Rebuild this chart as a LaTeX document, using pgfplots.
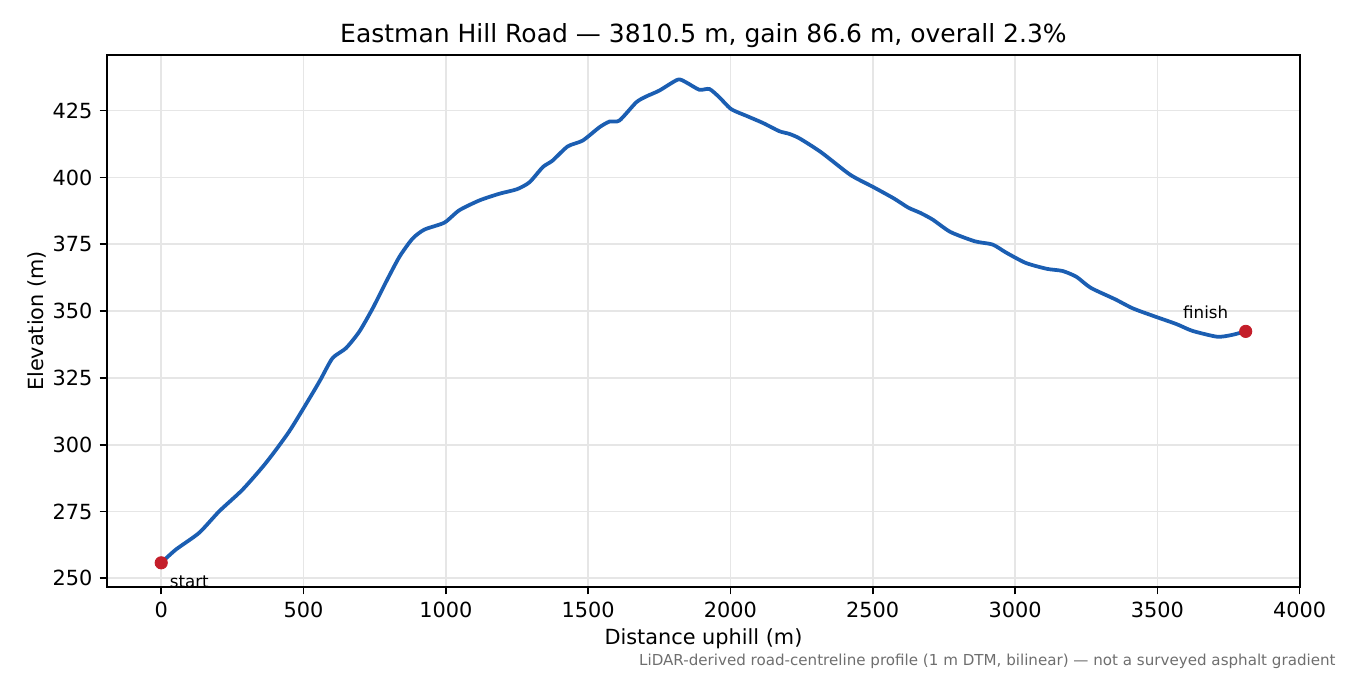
\documentclass[border=0pt]{standalone}
\usepackage{fontspec}
\setmainfont{DejaVu Sans}
\usepackage{pgfplots}
\pgfplotsset{compat=1.18}

\definecolor{profblue}{RGB}{27,94,178}
\definecolor{dotred}{RGB}{196,30,42}
\definecolor{gridgray}{RGB}{230,230,230}
\definecolor{notegray}{RGB}{110,110,110}

\pgfplotstableread{
d      e
0      255.8
52     260.8
133    267.0
204    275.1
286    283.2
368    293.2
450    305.0
532    319.3
561    324.6
602    332.4
649    336.1
696    342.3
743    351.0
790    360.9
837    370.3
883    377.1
925    380.5
995    383.1
1047   387.7
1118   391.4
1188   393.9
1250   395.6
1294   398.2
1341   403.9
1375   406.3
1428   411.6
1481   413.8
1540   418.8
1575   420.9
1610   421.3
1669   428.1
1704   430.3
1750   432.5
1815   436.6
1844   435.6
1891   432.8
1926   433.1
1961   430.0
2002   425.6
2055   423.1
2114   420.4
2172   417.3
2207   416.3
2243   414.6
2319   409.4
2421   401.0
2502   396.4
2575   392.1
2625   388.7
2668   386.7
2711   384.2
2773   379.6
2859   376.1
2921   374.9
2970   371.8
3038   368.0
3112   365.8
3167   365.0
3216   362.8
3266   358.7
3352   354.4
3414   351.0
3488   348.1
3568   345.1
3623   342.6
3710   340.4
3759   341.0
3810.5 342.4
}\profile

\begin{document}
\begin{tikzpicture}
% page frame: 9in x 4.5in, axis box placed inside it
\useasboundingbox (-51.36pt,-42.24pt) rectangle (596.64pt,281.76pt);
\begin{axis}[
    at={(0,0)}, anchor=south west,
    scale only axis,
    width=572.6pt, height=255.4pt,
    xmin=-190.5, xmax=4001,
    ymin=246.75, ymax=445.85,
    xtick={0,500,...,4000},
    ytick={250,275,...,425},
    /pgf/number format/assume math mode=true,
    /pgf/number format/1000 sep={},
    ticklabel style={font=\fontsize{10}{12}\selectfont},
    tick align=outside,
    major tick length=3.5pt,
    tick style={black, line width=0.8pt},
    axis line style={line width=0.8pt},
    xtick pos=bottom, ytick pos=left,
    grid=major,
    major grid style={gridgray, line width=0.8pt},
    clip=false,
]
\addplot[profblue, line width=1.8pt, smooth, tension=0.4] table[x=d, y=e] {\profile};
\addplot[only marks, mark=*, mark size=2.95pt, dotred, mark options={draw=none, fill=dotred}]
    coordinates {(0,255.8) (3810.5,342.4)};

\node[anchor=base west, inner sep=0pt, font=\fontsize{8}{10}\selectfont]
    at ([xshift=4pt, yshift=-11.9pt]axis cs:0,255.8) {start};
\node[anchor=base, inner sep=0pt, font=\fontsize{8}{10}\selectfont]
    at ([xshift=-19.2pt, yshift=6.4pt]axis cs:3810.5,342.4) {finish};

\node[anchor=base, inner sep=0pt, font=\fontsize{12}{14}\selectfont]
    at ([yshift=6.1pt]rel axis cs:0.5,1)
    {Eastman Hill Road — 3810.5 m, gain 86.6 m, overall 2.3\%};
\node[anchor=base, inner sep=0pt, font=\fontsize{10}{12}\selectfont]
    at ([yshift=-27.8pt]rel axis cs:0.5,0) {Distance uphill (m)};
\node[anchor=base, inner sep=0pt, rotate=90, font=\fontsize{10}{12}\selectfont]
    at ([xshift=-30.7pt]rel axis cs:0,0.5) {Elevation (m)};
\node[anchor=base east, inner sep=0pt, font=\fontsize{7.25}{9}\selectfont, text=notegray]
    at ([xshift=589.9pt, yshift=-37.44pt]rel axis cs:0,0)
    {LiDAR-derived road-centreline profile (1 m DTM, bilinear) — not a surveyed asphalt gradient};
\end{axis}
\end{tikzpicture}
\end{document}
